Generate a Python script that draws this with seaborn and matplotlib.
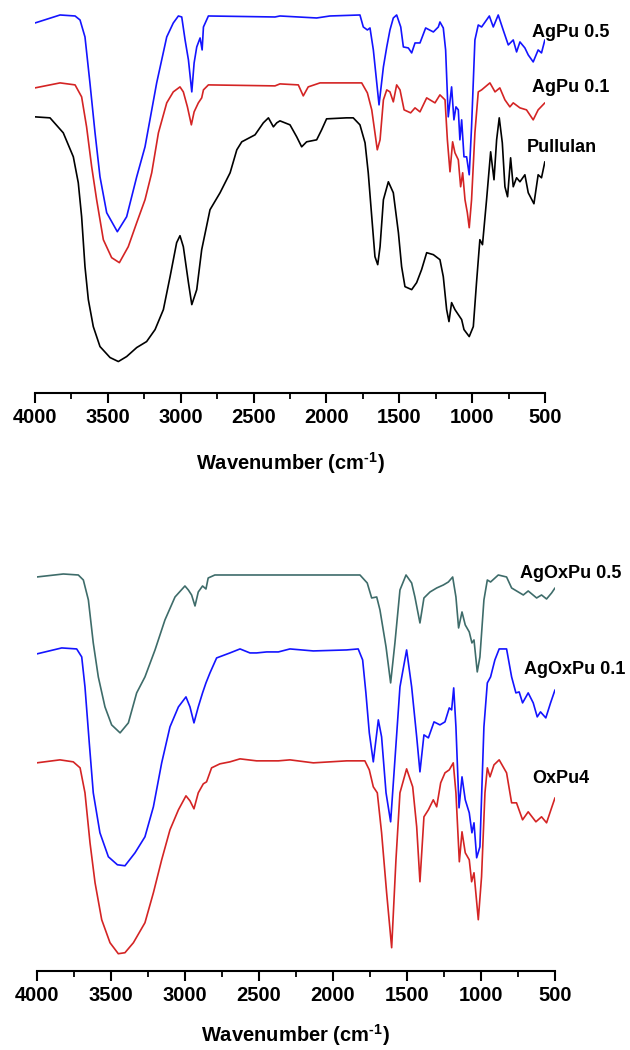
import matplotlib
matplotlib.use("Agg")
import matplotlib.pyplot as plt
import numpy as np
import seaborn as sns
from matplotlib.ticker import MultipleLocator

# FTIR spectra, transmittance in arbitrary offset units
wn_agpu05 = [4000, 3828, 3725, 3691, 3657, 3623, 3588, 3554, 3508, 3435, 3371, 3302, 3245, 3165,
             3096, 3051, 3016, 2993, 2970, 2947, 2924, 2908, 2890, 2867, 2853, 2844, 2810, 2353,
             2319, 2067, 1976, 1770, 1747, 1719, 1701, 1678, 1639, 1609, 1586, 1564, 1541, 1518,
             1490, 1472, 1438, 1415, 1392, 1358, 1319, 1266, 1232, 1221, 1198, 1182, 1164, 1141,
             1125, 1111, 1095, 1084, 1072, 1056, 1038, 1020, 1004, 981, 958, 935, 882, 855, 821,
             787, 752, 718, 695, 672, 638, 615, 581, 547, 524, 501]
t_agpu05 = [370, 378, 377, 373, 356, 310, 260, 216, 180, 161, 176, 216, 246, 310,
            356, 370, 377, 376, 353, 333, 301, 330, 346, 355, 343, 366, 377, 376,
            377, 375, 377, 378, 366, 363, 365, 343, 288, 326, 346, 363, 375, 378,
            366, 346, 345, 340, 350, 350, 365, 361, 366, 371, 365, 343, 276, 306,
            273, 286, 283, 253, 273, 236, 236, 218, 266, 353, 368, 366, 377, 366, 378,
            363, 348, 353, 341, 351, 345, 338, 331, 343, 340, 353]

wn_agpu01 = [4000, 3828, 3725, 3680, 3646, 3611, 3577, 3531, 3474, 3421, 3360, 3302, 3245, 3199,
             3153, 3096, 3051, 3005, 2982, 2954, 2927, 2908, 2879, 2856, 2844, 2810, 2353, 2319,
             2193, 2159, 2125, 2044, 1758, 1719, 1689, 1667, 1651, 1632, 1609, 1586, 1564, 1541,
             1518, 1495, 1467, 1422, 1392, 1358, 1312, 1255, 1221, 1186, 1170, 1152, 1134, 1118,
             1095, 1079, 1065, 1049, 1033, 1020, 1004, 981, 958, 935, 878, 843, 810, 775, 741,
             718, 672, 627, 581, 547, 501]
t_agpu01 = [305, 310, 308, 296, 266, 226, 193, 153, 135, 130, 146, 170, 193, 220,
            260, 290, 301, 306, 301, 286, 268, 281, 290, 295, 303, 308, 307, 309,
            308, 297, 306, 310, 310, 300, 283, 260, 243, 253, 293, 303, 301, 291,
            308, 303, 283, 280, 285, 281, 295, 290, 298, 293, 253, 221, 251, 240,
            233, 206, 220, 193, 180, 165, 193, 260, 301, 303, 310, 301, 305, 293, 286,
            290, 285, 283, 273, 283, 290]

wn_pullulan = [4000, 3897, 3806, 3737, 3703, 3680, 3657, 3634, 3600, 3554, 3485, 3428, 3371, 3302,
               3234, 3176, 3119, 3073, 3028, 3005, 2982, 2947, 2924, 2890, 2856, 2799, 2730, 2661,
               2615, 2581, 2490, 2433, 2398, 2364, 2341, 2319, 2250, 2204, 2170, 2136, 2067, 2033,
               1999, 1862, 1816, 1770, 1735, 1713, 1689, 1667, 1648, 1632, 1609, 1575, 1541, 1506,
               1484, 1461, 1415, 1381, 1347, 1312, 1266, 1221, 1198, 1175, 1159, 1141, 1118, 1095,
               1072, 1056, 1020, 992, 970, 947, 929, 901, 873, 850, 832, 814, 793, 775, 757, 736,
               718, 695, 672, 638, 615, 576, 547, 524, 501]
t_pullulan = [276, 275, 260, 236, 210, 176, 126, 93, 66, 46, 35, 31, 36, 45,
              51, 63, 83, 116, 150, 157, 146, 110, 88, 103, 143, 183, 200, 220,
              243, 251, 258, 270, 275, 266, 270, 272, 268, 256, 246, 251, 253, 263,
              274, 275, 275, 268, 250, 220, 176, 136, 128, 146, 193, 211, 200, 160,
              126, 106, 103, 110, 123, 140, 138, 133, 116, 83, 71, 90, 83, 78,
              73, 63, 56, 66, 110, 153, 148, 193, 241, 213, 253, 275, 250, 206, 196, 235,
              206, 215, 211, 218, 200, 189, 218, 215, 231]

wn_agoxpu05 = [4000, 3820, 3719, 3685, 3651, 3618, 3584, 3539, 3494, 3437, 3381, 3325, 3269, 3201,
               3134, 3066, 2999, 2976, 2954, 2931, 2909, 2880, 2857, 2842, 2797, 2357, 1817, 1768,
               1738, 1704, 1682, 1641, 1610, 1581, 1547, 1506, 1468, 1446, 1412, 1385, 1344, 1299,
               1254, 1220, 1191, 1169, 1151, 1128, 1106, 1079, 1061, 1047, 1025, 1007, 980, 957,
               935, 883, 827, 793, 748, 714, 681, 624, 591, 557, 523, 500]
t_agoxpu05 = [394, 397, 396, 391, 371, 328, 294, 264, 246, 238, 248, 278, 294, 321,
              351, 374, 385, 381, 376, 365, 379, 385, 382, 393, 396, 396, 396, 388,
              373, 374, 361, 324, 288, 328, 381, 396, 388, 374, 348, 373, 379, 383,
              386, 389, 394, 374, 343, 359, 346, 339, 328, 331, 299, 314, 371, 391,
              389, 396, 394, 383, 379, 376, 380, 373, 376, 372, 378, 383]

wn_agoxpu01 = [4000, 3831, 3730, 3696, 3674, 3645, 3618, 3573, 3516, 3455, 3404, 3336, 3269, 3212,
               3156, 3100, 3043, 2992, 2965, 2938, 2909, 2880, 2857, 2830, 2785, 2695, 2627, 2560,
               2515, 2447, 2368, 2290, 2132, 1907, 1829, 1799, 1777, 1754, 1727, 1693, 1671, 1641,
               1610, 1581, 1547, 1502, 1468, 1434, 1412, 1385, 1355, 1317, 1277, 1243, 1214, 1198,
               1184, 1169, 1148, 1128, 1106, 1079, 1061, 1047, 1029, 1007, 980, 957, 935, 906, 877,
               827, 793, 764, 742, 719, 681, 647, 620, 598, 562, 530, 500]
t_agoxpu01 = [317, 323, 322, 314, 284, 228, 178, 138, 114, 106, 105, 118, 134, 164,
              208, 244, 264, 274, 264, 248, 264, 278, 288, 298, 313, 318, 322, 318,
              318, 319, 319, 322, 320, 321, 322, 311, 278, 238, 209, 251, 234, 178,
              149, 211, 284, 321, 284, 234, 199, 236, 233, 249, 246, 249, 263, 261,
              283, 244, 163, 194, 171, 158, 138, 148, 113, 124, 244, 288, 294, 311, 322,
              322, 294, 278, 279, 268, 278, 268, 254, 259, 253, 268, 281]

wn_oxpu4 = [4000, 3843, 3753, 3707, 3674, 3640, 3606, 3561, 3505, 3449, 3404, 3347, 3269, 3212,
            3156, 3100, 3043, 2992, 2965, 2938, 2909, 2875, 2853, 2819, 2763, 2695, 2627, 2515,
            2368, 2290, 2132, 1907, 1784, 1754, 1727, 1700, 1671, 1637, 1603, 1574, 1547, 1502,
            1461, 1434, 1412, 1385, 1355, 1322, 1299, 1272, 1243, 1214, 1187, 1169, 1146, 1128,
            1106, 1079, 1063, 1047, 1018, 996, 973, 957, 939, 912, 877, 827, 793, 760, 719, 681,
            629, 591, 557, 523, 500]
t_oxpu4 = [208, 211, 209, 203, 178, 128, 88, 51, 28, 17, 18, 28, 48, 78,
           111, 141, 161, 175, 170, 162, 178, 187, 189, 203, 207, 209, 212, 210,
           210, 211, 208, 210, 210, 201, 184, 178, 138, 78, 23, 111, 178, 202,
           184, 144, 89, 154, 161, 171, 164, 188, 198, 201, 208, 178, 109, 139,
           118, 111, 89, 98, 51, 94, 178, 203, 194, 206, 211, 198, 168, 168, 151, 159,
           149, 154, 148, 163, 173]

top_series = [("AgPu 0.5", wn_agpu05, t_agpu05, "#1414ff", 589, 360),
              ("AgPu 0.1", wn_agpu01, t_agpu01, "#d42424", 589, 305),
              ("Pullulan", wn_pullulan, t_pullulan, "#000000", 625, 245)]
bottom_series = [("AgOxPu 0.5", wn_agoxpu05, t_agoxpu05, "#3e6c6a", 736, 397),
                 ("AgOxPu 0.1", wn_agoxpu01, t_agoxpu01, "#1414ff", 707, 301),
                 ("OxPu4", wn_oxpu4, t_oxpu4, "#d42424", 653, 192)]

sns.set_style("white")
plt.rcParams["font.family"] = ["Liberation Sans", "DejaVu Sans"]
plt.rcParams["font.weight"] = "bold"
plt.rcParams["text.color"] = "black"
plt.rcParams["axes.labelcolor"] = "black"
plt.rcParams["xtick.color"] = "black"
plt.rcParams["mathtext.fontset"] = "custom"
plt.rcParams["mathtext.rm"] = "Liberation Sans:bold"
plt.rcParams["mathtext.bf"] = "Liberation Sans:bold"

fig = plt.figure(figsize=(6.3, 10.5), dpi=100)
ax_top = fig.add_axes([35 / 630, 1 - 392.5 / 1050, 510 / 630, 392.5 / 1050])
ax_bot = fig.add_axes([36.7 / 630, 1 - 970.7 / 1050, 518.3 / 630, 410.7 / 1050])


def draw_panel(ax, series, ytop, pad):
    for name, wn, t, color, lx, ly in series:
        sns.lineplot(x=wn, y=t, color=color, lw=1.2, ax=ax, estimator=None, sort=False)
        ax.text(lx, ly, name, fontsize=13, fontweight="bold", va="center", ha="left",
                color="black", clip_on=False)
    ax.set_xlim(4000, 500)
    ax.set_ylim(0, ytop)
    for s in ["top", "right", "left"]:
        ax.spines[s].set_visible(False)
    ax.spines["bottom"].set_linewidth(1.5)
    ax.spines["bottom"].set_color("black")
    ax.set_yticks([])
    ax.xaxis.set_major_locator(MultipleLocator(500))
    ax.xaxis.set_minor_locator(MultipleLocator(250))
    ax.tick_params(axis="x", which="major", direction="out", length=7, width=1.5,
                   labelsize=14.5, pad=4, bottom=True, color="black", labelcolor="black")
    ax.tick_params(axis="x", which="minor", direction="out", length=4, width=1.3,
                   bottom=True, color="black")
    for lab in ax.get_xticklabels():
        lab.set_fontweight("bold")
    ax.set_ylabel("")
    ax.set_xlabel(r"Wavenumber (cm$^{\text{-1}}$)", fontsize=14.5, fontweight="bold",
                  labelpad=pad, color="black")
    ax.patch.set_alpha(0)


draw_panel(ax_top, top_series, 393, 17)
draw_panel(ax_bot, bottom_series, 411, 12)

fig.savefig("out.png", dpi=100, facecolor="white")
